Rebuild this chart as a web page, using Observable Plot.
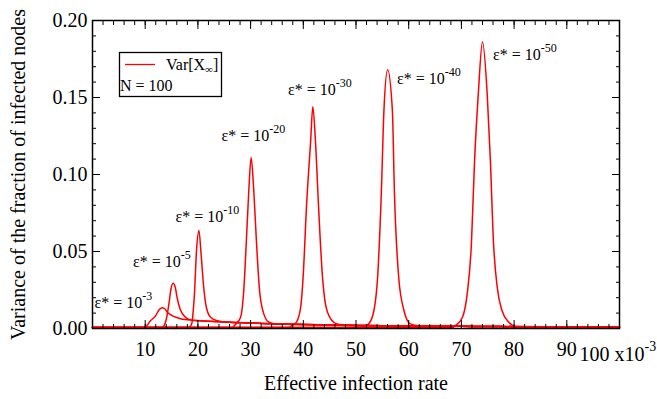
<!DOCTYPE html>
<html><head><meta charset="utf-8">
<script src="https://cdn.jsdelivr.net/npm/d3@7"></script>
<script src="https://cdn.jsdelivr.net/npm/@observablehq/plot@0.6"></script>
<style>body{margin:0;background:#fff} #chart{width:657px;height:399px}</style>
</head><body><div id="chart"></div>
<script>
// ---- tick values / labels (x in units of 10^-3) ----
const xMajorTicks = [0,10,20,30,40,50,60,70,80,90,100];
const xTickLabels = [10,20,30,40,50,60,70,80,90];
const xLastTick = [100];
const xLastTickLabel = "100 x10|-3";
const xMinorTicks = [0,2,4,6,8,10,12,14,16,18,20,22,24,26,28,30,32,34,36,38,40,42,44,46,48,50,52,54,56,58,60,62,64,66,68,70,72,74,76,78,80,82,84,86,88,90,92,94,96,98,100];
const yMajorTicks = [0,0.05,0.10,0.15,0.20];
const yTickLabels = ["0.00","0.05","0.10","0.15","0.20"];
const yMinorTicks = [0,0.01,0.02,0.03,0.04,0.05,0.06,0.07,0.08,0.09,0.10,0.11,0.12,0.13,0.14,0.15,0.16,0.17,0.18,0.19,0.20];

// ---- series: [effective infection rate (x10^-3), Var[X_inf]] ----
const tail = [[23,0.0045],[26,0.0040],[30,0.0036],[35,0.0030],[40,0.0026],[45,0.0023],[50,0.0020],[55,0.0018],[60,0.0016],[65,0.0015],[70,0.0014],[75,0.0013],[80,0.0012],[90,0.0011],[100,0.0010]];
const eps3  = [[0,0.0006],[9.4,0.0006],[10.2,0.0015],[11.0,0.0050],[12.0,0.0084],[12.6,0.0120],[13.2,0.0135],[13.7,0.0128],[14.2,0.0106],[15.1,0.0084],[16.0,0.0071],[16.7,0.0063],[18.0,0.0057],[19.9,0.0052]];
const eps5  = [[0,0.0006],[13.0,0.0006],[13.5,0.0015],[14.0,0.0060],[14.5,0.0160],[14.9,0.0258],[15.3,0.0294],[15.7,0.0268],[16.1,0.0193],[16.6,0.0128],[17.3,0.0084],[18.6,0.0056],[20.0,0.0050]];
const eps10 = [[0,0.0006],[18.0,0.0006],[18.6,0.0015],[18.9,0.0041],[19.1,0.0110],[19.35,0.0225],[19.7,0.0485],[20.2,0.0636],[20.6,0.0485],[21.1,0.0268],[21.6,0.0138],[22.4,0.0073],[23.7,0.0050],[26.0,0.0040]];
const eps20 = [[0,0.0006],[26.5,0.0006],[27.1,0.0026],[28.1,0.0073],[28.7,0.0247],[29.2,0.0570],[29.66,0.0896],[30.1,0.1110],[30.6,0.0896],[31.1,0.0570],[31.7,0.0247],[32.5,0.0095],[33.5,0.0041],[35.0,0.0030]];
const eps30 = [[0,0.0006],[37.2,0.0006],[37.9,0.0020],[38.7,0.0041],[39.5,0.0138],[40.0,0.0355],[40.6,0.0788],[41.4,0.1220],[41.8,0.1440],[42.3,0.1220],[42.9,0.0788],[43.6,0.0355],[44.2,0.0160],[45.2,0.0063],[46.4,0.0030],[48.0,0.0022]];
const eps40 = [[0,0.0006],[50.8,0.0006],[51.5,0.0015],[52.4,0.0030],[53.4,0.0117],[54.1,0.0333],[54.8,0.0874],[55.3,0.1416],[56.0,0.1680],[56.9,0.1416],[57.3,0.0874],[58.1,0.0333],[59.1,0.0117],[60.3,0.0030],[62.0,0.0018]];
const eps50 = [[0,0.0006],[68.2,0.0006],[68.9,0.0020],[70.2,0.0073],[71.1,0.0225],[71.9,0.0550],[72.5,0.1090],[73.2,0.1520],[74.0,0.1860],[74.9,0.1520],[75.5,0.1090],[76.1,0.0550],[76.8,0.0268],[77.7,0.0117],[79.0,0.0041],[80.3,0.0015]];
const seriesList = [eps3, eps5, eps10, eps20, eps30, eps40, eps50];

// ---- annotation labels (data coordinates) ----
const annLabels = ["ε* = 10|-3","ε* = 10|-5","ε* = 10|-10","ε* = 10|-20","ε* = 10|-30","ε* = 10|-40","ε* = 10|-50"];
const annX = [0.4, 7.7, 15.75, 24.5, 37.1, 57.8, 76.0];
const annY = [0.0169, 0.043, 0.0727, 0.1253, 0.155, 0.162, 0.1777];

const xTitle = "Effective infection rate";
const yTitle = "Variance of the fraction of infected nodes";
const legendSeries = "Var[X";
const legendNote = "N = 100";

function withTail(s) {
  const last = s[s.length - 1][0];
  return s.concat(tail.filter(d => d[0] > last + 1.5));
}

const ann = annLabels.map((t, i) => ({t, x: annX[i], y: annY[i]}));
const ink = "#000";
const red = "#ff0000";
const blank = () => "";
const serif = "'Liberation Serif', 'Times New Roman', 'DejaVu Serif', serif";

const chart = Plot.plot({
  width: 657, height: 399,
  marginLeft: 92, marginRight: 38, marginTop: 20, marginBottom: 71,
  x: {domain: [0, 100]},
  y: {domain: [0, 0.2]},
  style: {fontFamily: serif, fontSize: "20px", color: ink, background: "white", overflow: "visible"},
  marks: [
    ...seriesList.map(s => Plot.line(withTail(s), {x: d => d[0], y: d => d[1], stroke: red, strokeWidth: 1.5, curve: "monotone-x"})),
    // minor ticks (inward)
    Plot.axisX(xMinorTicks, {anchor: "bottom", tickSize: -4, tickFormat: blank, label: null, stroke: ink}),
    Plot.axisX(xMinorTicks, {anchor: "top", tickSize: -4, tickFormat: blank, label: null, stroke: ink}),
    Plot.axisY(yMinorTicks, {anchor: "left", tickSize: -4, tickFormat: blank, label: null, stroke: ink}),
    Plot.axisY(yMinorTicks, {anchor: "right", tickSize: -4, tickFormat: blank, label: null, stroke: ink}),
    // major ticks (inward)
    Plot.axisX(xMajorTicks, {anchor: "bottom", tickSize: -8, tickFormat: blank, label: null, stroke: ink}),
    Plot.axisX(xMajorTicks, {anchor: "top", tickSize: -8, tickFormat: blank, label: null, stroke: ink}),
    Plot.axisY(yMajorTicks, {anchor: "left", tickSize: -8, tickFormat: blank, label: null, stroke: ink}),
    Plot.axisY(yMajorTicks, {anchor: "right", tickSize: -8, tickFormat: blank, label: null, stroke: ink}),
    // tick labels
    Plot.axisX(xTickLabels, {anchor: "bottom", tickSize: 0, tickPadding: 13, tickFormat: d => String(d), label: null, fontSize: 20}),
    Plot.text(xLastTick, {x: d => d, frameAnchor: "bottom", lineAnchor: "top", textAnchor: "start", dy: 18, dx: -40, text: () => xLastTickLabel, fontSize: 20}),
    Plot.axisY(yMajorTicks, {anchor: "left", tickSize: 0, tickPadding: 5, tickFormat: d => yTickLabels[yMajorTicks.indexOf(d)], label: null, fontSize: 20}),
    Plot.frame({stroke: ink, strokeWidth: 1.5}),
    // axis titles
    Plot.text([xTitle], {frameAnchor: "bottom", lineAnchor: "middle", textAnchor: "middle", dy: 55, fontSize: 20}),
    Plot.text([yTitle], {frameAnchor: "left", lineAnchor: "middle", textAnchor: "middle", dx: -74, rotate: -90, fontSize: 20}),
    // annotations
    Plot.text(ann, {x: "x", y: "y", text: "t", textAnchor: "start", fontSize: 16})
  ]
});

const svg = d3.select(chart);
svg.attr("font-family", serif);
// drop empty tick-label texts from tick-only axes
svg.selectAll("text").filter(function() { return this.textContent === ""; }).remove();
// superscripts: split on "|"
svg.selectAll("text").each(function() {
  if (this.children.length === 0 && this.textContent.includes("|")) {
    const [main, sup] = this.textContent.split("|");
    const fs = parseFloat(this.getAttribute("font-size")) || parseFloat(this.parentNode.getAttribute("font-size")) || 16;
    const t = d3.select(this);
    t.text(main);
    t.append("tspan").attr("dy", -fs * 0.5).attr("font-size", Math.round(fs * 0.72)).text(sup);
  }
});
// legend box
const lg = svg.append("g").attr("font-family", serif).attr("text-anchor", "start");
lg.append("rect").attr("x", 119.5).attr("y", 52.5).attr("width", 102).attr("height", 44)
  .attr("fill", "white").attr("stroke", ink).attr("stroke-width", 1.3);
lg.append("line").attr("x1", 125).attr("x2", 155).attr("y1", 64.5).attr("y2", 64.5).attr("stroke", red).attr("stroke-width", 1.3);
const lt = lg.append("text").attr("x", 166).attr("y", 70).attr("font-size", 16).text(legendSeries);
lt.append("tspan").attr("dy", 3).attr("font-size", 11).text("∞");
lt.append("tspan").attr("dy", -3).attr("font-size", 16).text("]");
lg.append("text").attr("x", 120).attr("y", 91).attr("font-size", 16).text(legendNote);

document.getElementById("chart").appendChild(chart);
</script>
</body></html>
